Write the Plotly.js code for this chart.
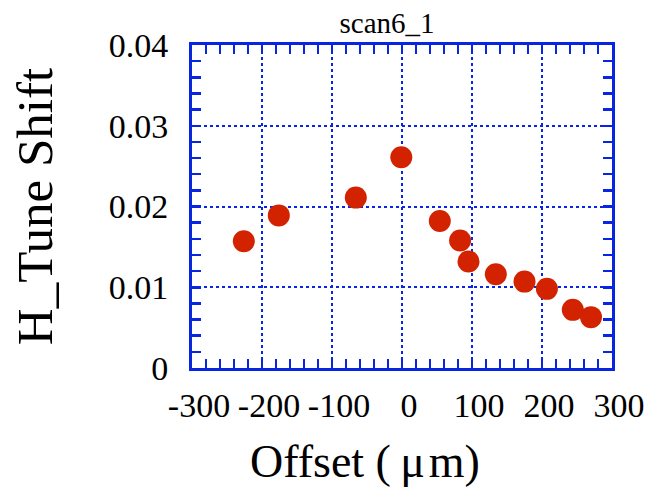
<!DOCTYPE html>
<html>
<head>
<meta charset="utf-8">
<script src="https://cdn.plot.ly/plotly-3.0.1.min.js"></script>
<style>
  html, body { margin: 0; padding: 0; background: #fff; }
  #chart { width: 650px; height: 487px; }
</style>
</head>
<body>
<div id="chart"></div>
<script>
// Horizontal tune shift measured against beam offset, scan 6 run 1
const offsetUm = [-226, -176, -66, -1, 54, 83, 95, 134, 175, 207, 244, 270];
const hTuneShift = [0.0157, 0.0189, 0.0211, 0.0261, 0.0182, 0.0158, 0.0132, 0.0116, 0.0107, 0.0098, 0.0072, 0.0063];

// Axis tick positions and their printed labels (plain hyphen for negatives)
const xTickVals = [-300, -200, -100, 0, 100, 200, 300];
const xTickText = ['-300', '-200', '-100', '0', '100', '200', '300'];
const yTickVals = [0, 0.01, 0.02, 0.03, 0.04];
const yTickText = ['0', '0.01', '0.02', '0.03', '0.04'];

const chartTitle = 'scan6_1';
const xLabel = 'Offset (\u2009\u03bc\u200am)';
const yLabel = 'H_Tune Shift';

const frameBlue = 'rgb(8,38,226)';
const serif = 'Liberation Serif, Times New Roman, serif';

const axisStyle = {
  showline: true,
  linecolor: frameBlue,
  linewidth: 3,
  mirror: 'ticks',
  ticks: 'inside',
  ticklen: 9,
  tickwidth: 2.5,
  tickcolor: frameBlue,
  showgrid: true,
  gridcolor: frameBlue,
  gridwidth: 2,
  griddash: 'dot',
  zeroline: false,
  tickmode: 'array',
  tickfont: { family: serif, size: 34, color: '#000' },
  automargin: false
};

const trace = {
  type: 'scatter',
  mode: 'markers',
  x: offsetUm,
  y: hTuneShift,
  marker: { size: 22, color: '#d22200', line: { width: 0 } },
  cliponaxis: false,
  hoverinfo: 'x+y'
};

const layout = {
  width: 650,
  height: 487,
  paper_bgcolor: '#fff',
  plot_bgcolor: '#fff',
  showlegend: false,
  margin: { l: 192, r: 38, t: 45, b: 119, pad: 0 },
  title: {
    text: chartTitle,
    font: { family: serif, size: 29, color: '#000' },
    xref: 'container', x: 387 / 650, xanchor: 'center',
    yref: 'container', y: 1 - 23 / 487, yanchor: 'middle'
  },
  xaxis: Object.assign({}, axisStyle, {
    range: [-300, 300],
    tickvals: xTickVals,
    ticktext: xTickText,
    ticklabelshift: 7,
    ticklabelstandoff: 5,
    minor: { dtick: 20, tick0: 0, ticks: 'inside', ticklen: 9, tickwidth: 2.5, tickcolor: frameBlue, showgrid: false }
  }),
  yaxis: Object.assign({}, axisStyle, {
    range: [0, 0.04],
    tickvals: yTickVals,
    ticktext: yTickText,
    ticklabelstandoff: 14,
    title: { text: yLabel, font: { family: serif, size: 51, color: '#000' }, standoff: 40 },
    minor: { dtick: 0.002, tick0: 0, ticks: 'inside', ticklen: 9, tickwidth: 2.5, tickcolor: frameBlue, showgrid: false }
  }),
  annotations: [{
    text: xLabel,
    xref: 'paper', yref: 'paper',
    x: (365 - 192) / 420, y: (368 - 461) / 323,
    xanchor: 'center', yanchor: 'middle',
    showarrow: false,
    font: { family: serif, size: 46, color: '#000' }
  }]
};

Plotly.newPlot('chart', [trace], layout, { displayModeBar: false, staticPlot: true });
</script>
</body>
</html>
